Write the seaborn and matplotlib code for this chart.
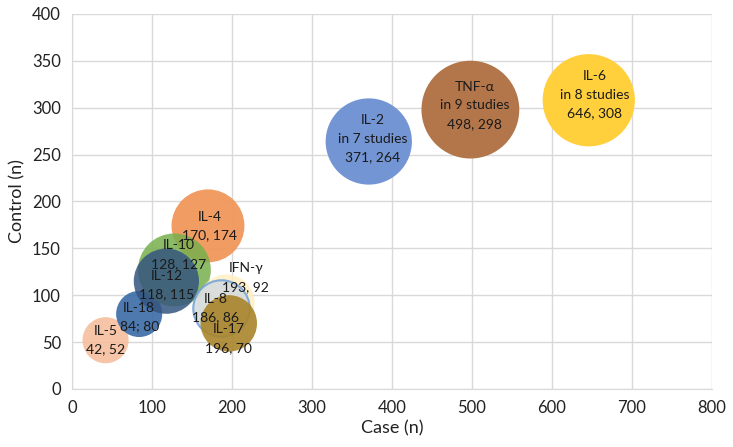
import matplotlib
matplotlib.use("Agg")
import matplotlib.pyplot as plt
import seaborn as sns
import pandas as pd

# cytokine data
markers = ['IL-5', 'IL-18', 'IL-4', 'IL-10', 'IL-12', 'IFN-γ', 'IL-8', 'IL-17', 'IL-2', 'TNF-α', 'IL-6']
case_n = [42, 84, 170, 128, 118, 193, 186, 196, 371, 498, 646]
control_n = [52, 80, 174, 127, 115, 92, 86, 70, 264, 298, 308]
studies = [2, 2, 5, 5, 4, 3, 3, 3, 7, 9, 8]
value_text = ['42, 52', '84; 80', '170, 174', '128, 127', '118, 115', '193, 92',
              '186, 86', '196, 70', '371, 264', '498, 298', '646, 308']

colors = ['#F6BE9C', '#3A6AA6', '#F0975A', '#78B04E', '#34557F', '#FFEFC2',
          '#D3DADE', '#A9852A', '#7395D3', '#B3764A', '#FFCF3C']
alphas = [0.9, 0.9, 0.95, 0.85, 0.85, 0.85, 0.85, 0.9, 1.0, 1.0, 1.0]
edges = ['none', 'none', 'none', 'none', 'none', 'none', '#6FA0D8', 'none', 'none', 'none', 'none']
# label nudges in points (dx, dy)
label_offsets = [(0, 0), (0, -2), (1, 0), (3, 11), (0, -3), (14, 18), (-4, 0), (0, -11), (3, 2), (3, 3), (4, 4)]

df = pd.DataFrame({'marker': markers, 'case': case_n, 'control': control_n, 'studies': studies})

sns.set_style("white")
plt.rcParams['font.family'] = ['Lato', 'DejaVu Sans']

fig = plt.figure(figsize=(7.33, 4.47), dpi=100)
ax = fig.add_axes([0.0982, 0.1298, 0.8731, 0.8389])

for i, row in df.iterrows():
    sns.scatterplot(x=[row['case']], y=[row['control']], s=row['studies'] * 551,
                    color=colors[i], alpha=alphas[i], edgecolor=edges[i],
                    linewidth=1.5 if edges[i] != 'none' else 0, ax=ax, zorder=3 + i)
    lines = [row['marker']]
    if row['studies'] >= 7:
        lines.append(f"in {row['studies']} studies")
    lines.append(value_text[i])
    ax.annotate('\n'.join(lines), (row['case'], row['control']),
                xytext=label_offsets[i], textcoords='offset points',
                ha='center', va='center', fontsize=10, color='#1a1a1a',
                linespacing=1.65, zorder=20)

ax.set_xlim(0, 800)
ax.set_ylim(0, 400)
ax.set_xticks(range(0, 801, 100))
ax.set_yticks(range(0, 401, 50))
ax.grid(True, color='#D9D9D9', linewidth=1)
ax.set_axisbelow(True)
for side in ['top', 'right']:
    ax.spines[side].set_visible(False)
for side in ['left', 'bottom']:
    ax.spines[side].set_color('#D9D9D9')
ax.tick_params(axis='both', length=0, labelsize=12, colors='#222222', pad=8)
ax.set_xlabel('Case (n)', fontsize=13, color='#222222', labelpad=3)
ax.set_ylabel('Control (n)', fontsize=13, color='#222222', labelpad=5)

fig.savefig('out.png', dpi=100)
